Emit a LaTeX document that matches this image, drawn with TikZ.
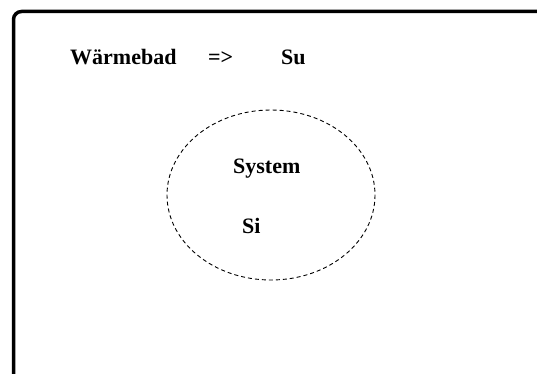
\documentclass[tikz,border=0pt]{standalone}
\usepackage{fontspec}
\setmainfont{Liberation Serif}
\begin{document}
\begin{tikzpicture}[x=1pt,y=-1pt,
  lbl/.style={inner sep=0pt,anchor=base west,font=\fontsize{22}{26}\selectfont\bfseries}]
  \useasboundingbox (0,0) rectangle (537,374);
  \clip (0,0) rectangle (537,374);

  % Frame
  \draw[line width=3.5pt, rounded corners=8pt] (13.5,11.5) rectangle (560,400);

  % System boundary
  \draw[dashed, dash pattern=on 4pt off 3pt, line width=0.9pt] (271,195) ellipse [x radius=104, y radius=85];

  % Labels
  \node[lbl] (bad) at (70,65) {Wärmebad};
  \node[lbl] (arr) at (208,65) {=>};
  \node[lbl] (su) at (281,65) {Su};
  \node[lbl] (sys) at (233,173) {System};
  \node[lbl] (si) at (242,233) {Si};
\end{tikzpicture}
\end{document}
